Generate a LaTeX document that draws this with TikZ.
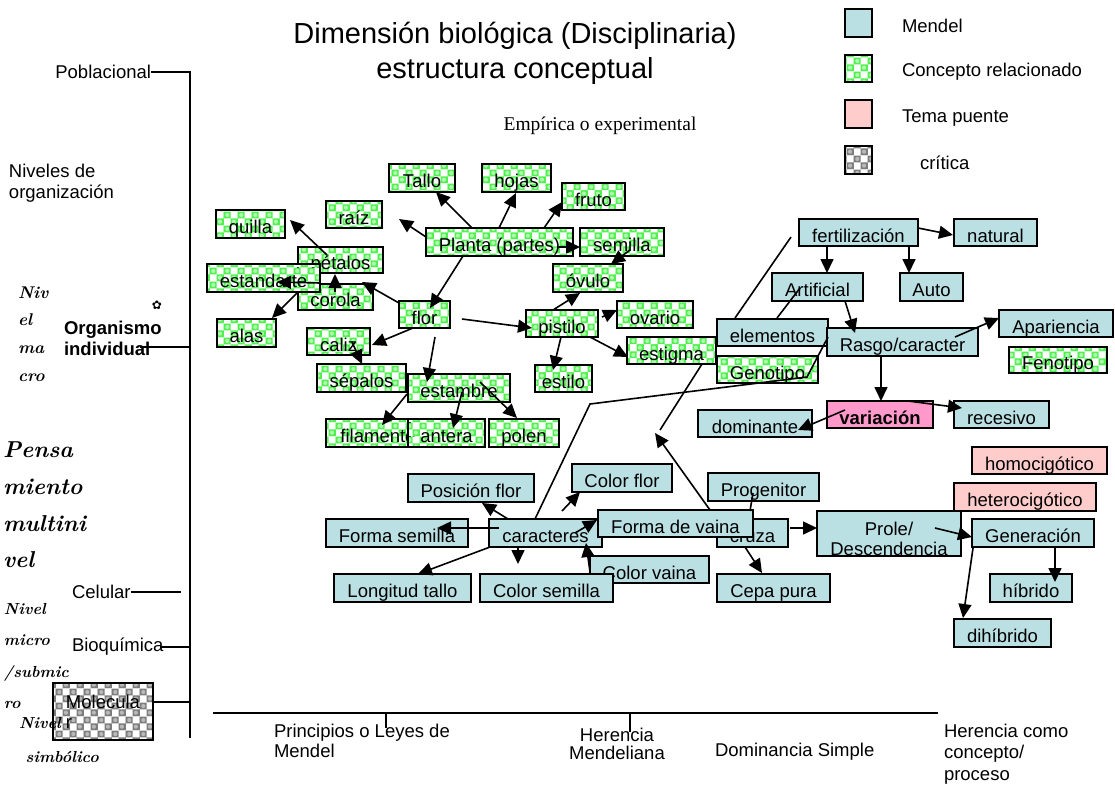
\documentclass[tikz,border=0pt]{standalone}
\usepackage{fontspec}
\setmainfont{Liberation Sans}
\newfontfamily\serifface{Liberation Serif}
\newfontfamily\symface{DejaVu Sans}
\newfontfamily\handface{lmroman10-bolditalic.otf}
\usetikzlibrary{arrows.meta,patterns.meta}

\definecolor{mendel}{RGB}{187,224,227}
\definecolor{chkG}{RGB}{80,240,80}
\definecolor{chkGl}{RGB}{175,250,175}
\definecolor{chkK}{RGB}{125,125,125}
\definecolor{chkKl}{RGB}{185,185,185}
\definecolor{puente}{RGB}{255,204,204}
\definecolor{varpink}{RGB}{255,153,204}

% checkered fills with small bubbles
\tikzdeclarepattern{
  name=gchk, type=colored,
  bottom left={(0pt,0pt)}, top right={(14pt,14pt)}, tile size={(14pt,14pt)},
  code={
    \fill[chkG] (0pt,0pt) rectangle (14pt,14pt);
    \fill[white] (0pt,0pt) rectangle (7pt,7pt);
    \fill[white] (7pt,7pt) rectangle (14pt,14pt);
    \fill[chkGl] (10.5pt,3.5pt) circle (2.2pt);
    \fill[chkGl] (3.5pt,10.5pt) circle (2.2pt);
  }}
\tikzdeclarepattern{
  name=kchk, type=colored,
  bottom left={(0pt,0pt)}, top right={(14pt,14pt)}, tile size={(14pt,14pt)},
  code={
    \fill[chkK] (0pt,0pt) rectangle (14pt,14pt);
    \fill[white] (0pt,0pt) rectangle (7pt,7pt);
    \fill[white] (7pt,7pt) rectangle (14pt,14pt);
    \fill[chkKl] (10.5pt,3.5pt) circle (2.2pt);
    \fill[chkKl] (3.5pt,10.5pt) circle (2.2pt);
  }}

% box from top-left (#2,#3) to bottom-right (#4,#5)
\newcommand\bx[7]{\node[#6,minimum width={(#4-#2)*1pt},minimum height={(#5-#3)*1pt}] (#1) at (#2,#3) {#7};}

\begin{document}
\begin{tikzpicture}[x=1pt,y=-1pt,
  every node/.style={inner sep=0pt, outer sep=0pt},
  fs/.style={font=\fontsize{18.5}{20}\selectfont},
  boxbase/.style={draw=black, line width=1.6pt, anchor=north west, fs},
  bx/.style={boxbase, text height=20pt, text depth=1pt},
  mbx/.style={bx, fill=mendel},
  gbx/.style={bx, pattern=gchk},
  tbx/.style={bx, fill=puente},
  kbx/.style={bx, pattern=kchk},
  vbx/.style={bx, fill=varpink, font=\fontsize{18.5}{20}\selectfont\bfseries},
  lbl/.style={fs},
  hand/.style={align=left, anchor=west},
  arr/.style={draw=black, line width=1.6pt, -{Triangle[length=14pt,width=13pt]}},
  ln/.style={draw=black, line width=1.6pt},
]
\path[use as bounding box] (0,0) rectangle (1115,785);

% ---------- titles ----------
\node[font=\fontsize{29}{35}\selectfont, align=center] (title) at (515,53)
  {Dimensión biológica (Disciplinaria)\\estructura conceptual};
\node[font=\serifface\fontsize{19.5}{22}\selectfont] (emp) at (600,126) {Empírica o experimental};

% ---------- legend ----------
\bx{legM}{845}{9}{872}{37}{mbx}{}
\bx{legG}{845}{55}{872}{82}{gbx}{}
\bx{legT}{845}{100}{872}{128}{tbx}{}
\bx{legK}{845}{146}{872}{174}{kbx}{}
\node[lbl,anchor=west] (legMt) at (902,26) {Mendel};
\node[lbl,anchor=west] (legGt) at (902,72) {Concepto relacionado};
\node[lbl,anchor=west] (legTt) at (902,118) {Tema puente};
\node[lbl,anchor=west] (legKt) at (920,163) {crítica};

% ---------- levels of organisation ----------
\node[lbl,anchor=east] (pob) at (151,72) {Poblacional};
\coordinate (axtop) at (190,72);
\coordinate (axbot) at (190,738);
\draw[ln] (pob.east) -- (axtop) -- (axbot);
\node[lbl,anchor=west,align=left,font=\fontsize{18.5}{21}\selectfont] (niveles) at (9,183) {Niveles de\\organización};
\node[hand,font=\handface\fontsize{17}{27.7}\selectfont] (nmacro) at (18,334) {Niv\\el\\ma\\cro};
\node[font=\symface\fontsize{12}{12}\selectfont] (gear) at (157,305) {✿};
\node[anchor=west,align=left,font=\fontsize{18.5}{21}\selectfont\bfseries] (org) at (64,338) {Organismo\\individual};
\coordinate (orgL) at (140,347);
\coordinate (orgR) at (190,347);
\draw[ln] (orgL) -- (orgR);
\node[hand,font=\handface\fontsize{23}{36.7}\selectfont] (pensa) at (3,505) {Pensa\\miento\\multini\\vel};
\node[lbl,anchor=west] (cel) at (72,592) {Celular};
\coordinate (celR) at (181,592);
\draw[ln] (cel.east) -- (celR);
\node[hand,font=\handface\fontsize{16}{31.5}\selectfont] (nmicro) at (4,656) {Nivel\\micro\\/submic\\ro};
\node[lbl,anchor=west] (bio) at (72,647) {Bioquímica};
\coordinate (bioR) at (190,647);
\draw[ln] ([xshift=-4pt]bio.east) -- (bioR);
\node[boxbase,pattern=kchk,align=left,minimum width=100pt,minimum height=57pt] (molec) at (53,683) {Molecula\\r};
\coordinate (molR) at (190,702);
\draw[ln] ([shift={(100,19)}]molec.north west) -- (molR);
\node[hand,font=\handface\fontsize{16}{34}\selectfont] (nsimb) at (19,740) {Nivel\\\ simbólico};

% ---------- plant parts ----------
\bx{Tallo}{389}{164}{455}{192}{gbx}{Tallo}
\bx{hojas}{482}{164}{551}{192}{gbx}{hojas}
\bx{fruto}{562}{183}{625}{210}{gbx}{fruto}
\bx{raiz}{326}{201}{382}{228}{gbx}{raíz}
\bx{quilla}{216}{210}{285}{238}{gbx}{quilla}
\bx{Planta}{426}{228}{573}{256}{gbx}{Planta (partes)}
\bx{semilla}{580}{228}{664}{256}{gbx}{semilla}
\bx{petalos}{298}{247}{383}{273}{gbx}{pétalos}
\bx{ovulo}{553}{264}{623}{292}{gbx}{óvulo}
\bx{corola}{298}{284}{373}{310}{gbx}{corola}
\bx{estandarte}{207}{264}{320}{292}{gbx}{estandarte}
\bx{flor}{399}{301}{450}{328}{gbx}{flor}
\bx{ovario}{617}{301}{693}{328}{gbx}{ovario}
\bx{pistilo}{526}{310}{598}{337}{gbx}{pistilo}
\bx{alas}{217}{319}{276}{347}{gbx}{alas}
\bx{caliz}{307}{328}{370}{355}{gbx}{caliz}
\bx{estigma}{627}{337}{716}{364}{gbx}{estigma}
\bx{sepalos}{317}{364}{406}{392}{gbx}{sépalos}
\bx{estilo}{535}{365}{592}{392}{gbx}{estilo}
\bx{estambre}{408}{374}{510}{402}{gbx}{estambre}
\bx{filamento}{326}{419}{410}{447}{gbx}{\makebox[0pt]{\hspace*{20pt}filamento}}
\bx{antera}{408}{419}{485}{447}{gbx}{antera}
\bx{polen}{489}{419}{559}{447}{gbx}{polen}

% ---------- Mendel concepts ----------
\bx{fert}{799}{219}{918}{246}{mbx}{fertilización}
\bx{natural}{954}{219}{1037}{246}{mbx}{natural}
\bx{Artificial}{772}{273}{863}{301}{mbx}{Artificial}
\bx{Auto}{900}{273}{963}{301}{mbx}{Auto}
\bx{Apariencia}{999}{310}{1113}{337}{mbx}{Apariencia}
\bx{Fenotipo}{1009}{347}{1107}{373}{gbx}{Fenotipo}
\bx{elementos}{717}{319}{828}{346}{mbx}{elementos}
\bx{Rasgo}{827}{328}{978}{356}{mbx}{Rasgo/caracter}
\bx{Genotipo}{717}{356}{818}{383}{gbx}{Genotipo}
\bx{variacion}{827}{401}{933}{428}{vbx}{variación}
\bx{dominante}{698}{410}{812}{437}{mbx}{dominante}
\bx{recesivo}{954}{401}{1049}{428}{mbx}{recesivo}
\bx{homo}{972}{447}{1107}{474}{tbx}{homocigótico}
\bx{hetero}{954}{483}{1096}{511}{tbx}{heterocigótico}
\bx{Colorflor}{572}{464}{672}{492}{mbx}{Color flor}
\bx{Posicion}{408}{474}{534}{502}{mbx}{Posición flor}
\bx{Progenitor}{708}{473}{819}{501}{mbx}{Progenitor}
\bx{Formasemilla}{326}{519}{468}{547}{mbx}{Forma semilla}
\bx{caracteres}{489}{519}{602}{547}{mbx}{caracteres}
\bx{cruza}{717}{519}{788}{547}{mbx}{cruza}
\bx{Formavaina}{598}{510}{753}{537}{mbx}{Forma de vaina}
\node[boxbase,fill=mendel,align=center,text height=44pt,text depth=1pt,minimum width=144pt,minimum height=45pt] (Prole) at (817,511) {Prole/\\Descendencia};
\bx{Generacion}{972}{519}{1094}{547}{mbx}{Generación}
\bx{Colorvaina}{590}{556}{709}{583}{mbx}{Color vaina}
\bx{Longitud}{334}{574}{471}{602}{mbx}{Longitud tallo}
\bx{Colorsemilla}{480}{574}{613}{602}{mbx}{Color semilla}
\bx{Cepa}{717}{574}{830}{602}{mbx}{Cepa pura}
\bx{hibrido}{990}{574}{1072}{602}{mbx}{híbrido}
\bx{dihibrido}{954}{619}{1051}{647}{mbx}{dihíbrido}

% ---------- free ends of connectors ----------
\coordinate (fElem) at (791,237);
\coordinate (k1) at (590,404);
\coordinate (k2) at (807,377);
\coordinate (fEst) at (660,430);
\coordinate (fVaina) at (655,433);

% ---------- connectors: plant parts ----------
\draw[arr] ([shift={(29,8)}]petalos.north west) -- ([shift={(74,10)}]quilla.north west);
\draw[arr] ([shift={(0,9)}]Planta.north west) -- ([shift={(73,18)}]raiz.north west);
\draw[arr] ([shift={(46,0)}]Planta.north west) -- ([shift={(47,28)}]Tallo.north west);
\draw[arr] ([shift={(73,0)}]Planta.north west) -- ([shift={(34,29)}]hojas.north west);
\draw[arr] ([shift={(118,0)}]Planta.north west) -- ([shift={(0,19)}]fruto.north west);
\draw[arr] ([shift={(131,19)}]Planta.north west) -- ([shift={(0,19)}]semilla.north west);
\draw[arr] ([shift={(50,22)}]semilla.north west) -- ([shift={(58,0)}]ovulo.north west);
\draw[arr] ([shift={(37,28)}]Planta.north west) -- ([shift={(31,7)}]flor.north west);
\draw[arr] ([shift={(0,2)}]flor.north west) -- ([shift={(64,-2)}]corola.north west);
\draw[arr] ([shift={(37,8)}]corola.north west) -- ([shift={(37,27)}]petalos.north west);
\draw[arr] ([shift={(22,-1)}]corola.north west) -- ([shift={(70,18)}]estandarte.north west);
\draw[arr] ([shift={(-1,9)}]corola.north west) -- ([shift={(55,-1)}]alas.north west);
\draw[arr] ([shift={(14,27)}]flor.north west) -- ([shift={(65,17)}]caliz.north west);
\draw[arr] ([shift={(45,14)}]caliz.north west) -- ([shift={(45,0)}]sepalos.north west);
\draw[arr] ([shift={(36,36)}]flor.north west) -- ([shift={(19,8)}]estambre.north west);
\draw[arr] ([shift={(63,18)}]flor.north west) -- ([shift={(6,18)}]pistilo.north west);
\draw[arr] ([shift={(-1,20)}]estambre.north west) -- ([shift={(56,6)}]filamento.north west);
\draw[arr] ([shift={(54,18)}]estambre.north west) -- ([shift={(45,9)}]antera.north west);
\draw[arr] ([shift={(72,8)}]estambre.north west) -- ([shift={(28,-1)}]polen.north west);
\draw[arr] ([shift={(27,0)}]pistilo.north west) -- ([shift={(27,29)}]ovulo.north west);
\draw[arr] ([shift={(76,7)}]pistilo.north west) -- ([shift={(0,9)}]ovario.north west);
\draw[arr] ([shift={(35,27)}]pistilo.north west) -- ([shift={(18,5)}]estilo.north west);
\draw[arr] ([shift={(64,27)}]pistilo.north west) -- ([shift={(1,20)}]estigma.north west);

% ---------- connectors: Mendel concepts ----------
\draw[arr] ([shift={(119,9)}]fert.north west) -- ([shift={(-1,16)}]natural.north west);
\draw[arr] ([shift={(28,27)}]fert.north west) -- ([shift={(55,0)}]Artificial.north west);
\draw[arr] ([shift={(110,27)}]fert.north west) -- ([shift={(9,0)}]Auto.north west);
\draw[arr] ([shift={(73,28)}]Artificial.north west) -- ([shift={(28,5)}]Rasgo.north west);
\draw[arr] ([shift={(128,9)}]Rasgo.north west) -- ([shift={(0,8)}]Apariencia.north west);
\draw[arr] ([shift={(54,28)}]Rasgo.north west) -- ([shift={(54,0)}]variacion.north west);
\draw[arr] ([shift={(18,9)}]variacion.north west) -- ([shift={(100,20)}]dominante.north west);
\draw[arr] ([shift={(81,0)}]variacion.north west) -- ([shift={(8,7)}]recesivo.north west);
\draw[ln] ([shift={(18,-1)}]elementos.north west) -- (fElem);
\draw[ln] ([shift={(28,15)}]Artificial.north west) -- ([shift={(60,-1)}]elementos.north west);
\draw[ln] ([shift={(46,0)}]caracteres.north west) -- (k1) -- (k2) -- ([shift={(111,18)}]elementos.north west);
\draw[ln] ([shift={(75,27)}]estigma.north west) -- (fEst);
\draw[arr] ([shift={(112,0)}]Formavaina.north west) -- (fVaina);
\draw[arr] ([shift={(19,0)}]caracteres.north west) -- ([shift={(74,29)}]Posicion.north west);
\draw[arr] ([shift={(10,9)}]caracteres.north west) -- ([shift={(111,9)}]Formasemilla.north west);
\draw[arr] ([shift={(73,-8)}]caracteres.north west) -- ([shift={(8,28)}]Colorflor.north west);
\draw[arr] ([shift={(1,28)}]caracteres.north west) -- ([shift={(84,0)}]Longitud.north west);
\draw[arr] ([shift={(29,28)}]caracteres.north west) -- ([shift={(38,-10)}]Colorsemilla.north west);
\draw[arr] ([shift={(86,14)}]caracteres.north west) -- ([shift={(-1,10)}]Formavaina.north west);
\draw[arr] ([shift={(0,16)}]Colorvaina.north west) -- ([shift={(97,24)}]caracteres.north west);
\draw[ln] ([shift={(45,20)}]Progenitor.north west) -- ([shift={(152,1)}]Formavaina.north west);
\draw[arr] ([shift={(73,9)}]cruza.north west) -- ([shift={(0,17)}]Prole.north west);
\draw[arr] ([shift={(28,28)}]cruza.north west) -- ([shift={(45,-1)}]Cepa.north west);
\draw[arr] ([shift={(118,17)}]Prole.north west) -- ([shift={(0,18)}]Generacion.north west);
\draw[arr] ([shift={(83,28)}]Generacion.north west) -- ([shift={(65,8)}]hibrido.north west);
\draw[arr] ([shift={(1,29)}]Generacion.north west) -- ([shift={(9,-1)}]dihibrido.north west);

% ---------- bottom axis ----------
\coordinate (bL) at (213,713);
\coordinate (bR) at (938,713);
\draw[ln] (bL) -- (bR);
\coordinate (tk1) at (386,713);
\coordinate (tk2) at (630,713);
\draw[ln] (tk1) -- ++(0,15);
\draw[ln] (tk2) -- ++(0,19);
\node[anchor=west,align=left,font=\fontsize{18.5}{19.5}\selectfont] (princ) at (274,741) {Principios o Leyes de\\Mendel};
\node[align=center,font=\fontsize{18.5}{18}\selectfont] (hmend) at (617,744) {Herencia\\Mendeliana};
\node[lbl,anchor=west] (domsim) at (715,752) {Dominancia Simple};
\node[anchor=west,align=left,font=\fontsize{18.5}{21.5}\selectfont] (hconc) at (944,754) {Herencia como\\concepto/\\proceso};
\end{tikzpicture}
\end{document}
